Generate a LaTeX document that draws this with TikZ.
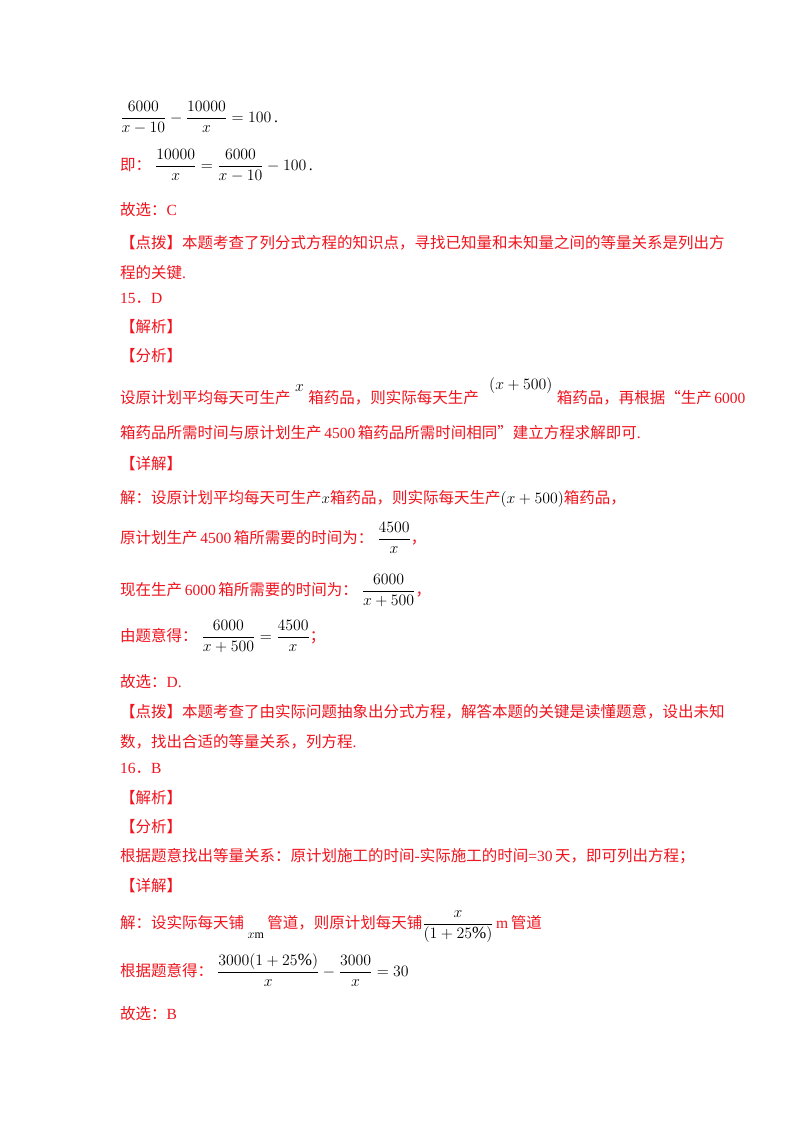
\documentclass[tikz,border=0pt]{standalone}
\usepackage{amsmath}
\usepackage{graphicx}
\usepackage{fontspec}
\setmainfont{Liberation Serif}
\newfontfamily\cjk{Noto Sans CJK SC}
\definecolor{mred}{RGB}{240,20,30}
\newcommand{\zh}[1]{{\cjk #1}}
\newcommand{\mth}[1]{{\color{black}\scalebox{1.1}{$\displaystyle #1$}}}
\tikzset{ln/.style={anchor=base west,inner sep=0pt,font=\fontsize{15.5}{18}\selectfont,text=mred},
 bk/.style={ln,text=black}}
\begin{document}
\begin{tikzpicture}[x=1pt,y=-1pt]
\useasboundingbox[fill=white] (0,0) rectangle (800,1132);
\node[bk] (a1) at (120,122) {\mth{\frac{6000}{x-10}-\frac{10000}{x}=100}\,.};
\node[ln] (a2) at (120,170) {\zh{即：}\ \mth{\frac{10000}{x}=\frac{6000}{x-10}-100}{\color{black}\,.}};
\node[ln] (a3) at (120,215) {\zh{故选：}C};
\node[ln] (a4) at (120,248) {\zh{【点拨】本题考查了列分式方程的知识点，寻找已知量和未知量之间的等量关系是列出方}};
\node[ln] (a5) at (120,278) {\zh{程的关键}.};
\node[ln] (a6) at (120,303) {15\zh{．}D};
\node[ln] (a7) at (120,332) {\zh{【解析】}};
\node[ln] (a8) at (120,361) {\zh{【分析】}};
\node[ln] (a9) at (120,403) {\zh{设原计划平均每天可生产}};
\node[bk,anchor=base west] (a9x) at ([xshift=4pt,yshift=12pt]a9.base east) {\mth{x}};
\node[ln] (a9b) at ([xshift=4pt]a9.base east-|a9x.east) {\zh{箱药品，则实际每天生产}};
\node[bk,anchor=base west] (a9y) at ([xshift=10pt,yshift=14pt]a9b.base east) {\mth{(x+500)}};
\node[ln] (a9c) at ([xshift=4pt]a9b.base east-|a9y.east) {\zh{箱药品，再根据“生产}\,6000};
\node[ln] (a10) at (120,438) {\zh{箱药品所需时间与原计划生产}\,4500\,\zh{箱药品所需时间相同”建立方程求解即可}.};
\node[ln] (a11) at (120,469) {\zh{【详解】}};
\node[ln] (a12) at (120,503) {\zh{解：设原计划平均每天可生产}{\color{black}\scalebox{1.05}{$x$}}\zh{箱药品，则实际每天生产}\mth{(x+500)}\zh{箱药品，}};
\node[ln] (a13) at (120,543) {\zh{原计划生产}\,4500\,\zh{箱所需要的时间为：}\ \mth{\frac{4500}{x}}\zh{，}};
\node[ln] (a14) at (120,595) {\zh{现在生产}\,6000\,\zh{箱所需要的时间为：}\ \mth{\frac{6000}{x+500}}\zh{，}};
\node[ln] (a15) at (120,641) {\zh{由题意得：}\ \mth{\frac{6000}{x+500}=\frac{4500}{x}}\zh{；}};
\node[ln] (a16) at (120,687) {\zh{故选：}D.};
\node[ln] (a17) at (120,717) {\zh{【点拨】本题考查了由实际问题抽象出分式方程，解答本题的关键是读懂题意，设出未知}};
\node[ln] (a18) at (120,747) {\zh{数，找出合适的等量关系，列方程}.};
\node[ln] (a19) at (120,773) {16\zh{．}B};
\node[ln] (a20) at (120,803) {\zh{【解析】}};
\node[ln] (a21) at (120,832) {\zh{【分析】}};
\node[ln] (a22) at (120,861) {\zh{根据题意找出等量关系：原计划施工的时间}-\zh{实际施工的时间}=30\,\zh{天，即可列出方程；}};
\node[ln] (a23) at (120,891) {\zh{【详解】}};
\node[ln] (a24) at (120,928) {\zh{解：设实际每天铺}};
\node[bk,anchor=base west] (a24x) at ([xshift=3pt,yshift=-10pt]a24.base east) {\fontsize{12}{14}\selectfont\scalebox{1.05}{$x$}m};
\node[ln] (a24b) at ([xshift=3pt]a24.base east-|a24x.east) {\zh{管道，则原计划每天铺}\mth{\frac{x}{(1+25\%)}}\,m\,\zh{管道}};
\node[ln] (a25) at (120,976) {\zh{根据题意得：}\ \mth{\frac{3000(1+25\%)}{x}-\frac{3000}{x}=30}};
\node[ln] (a26) at (120,1019) {\zh{故选：}B};
\end{tikzpicture}
\end{document}
